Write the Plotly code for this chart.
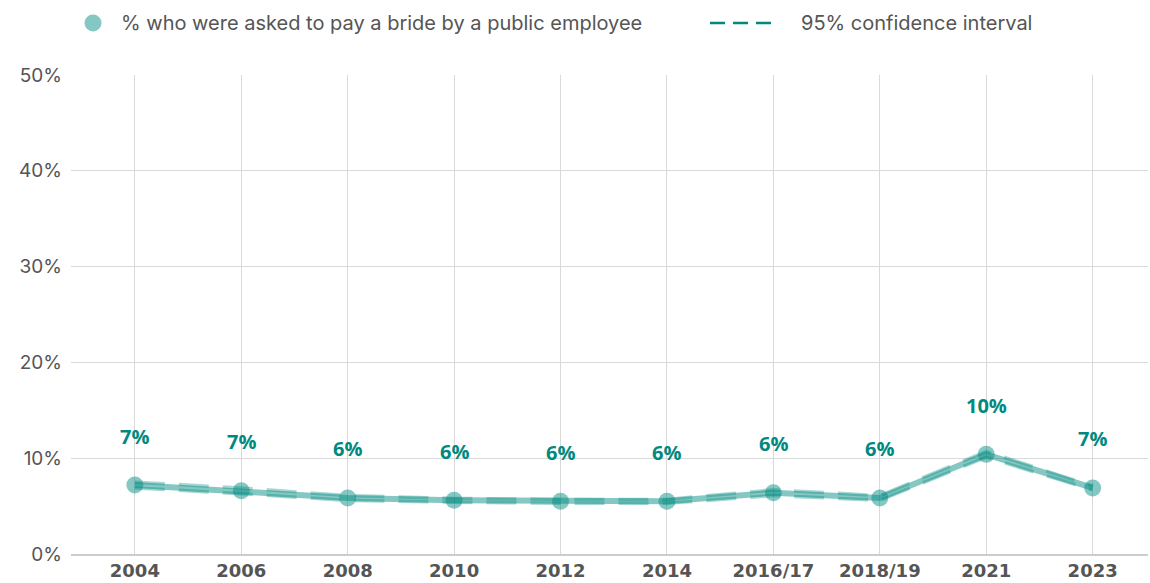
import plotly.graph_objects as go

# Survey years and share of respondents asked for a bribe (%)
years = ["2004", "2006", "2008", "2010", "2012", "2014", "2016/17", "2018/19", "2021", "2023"]
share = [7.2, 6.6, 5.85, 5.6, 5.5, 5.5, 6.4, 5.85, 10.4, 6.9]
ci_low = [6.9, 6.3, 5.6, 5.4, 5.3, 5.3, 6.1, 5.6, 10.1, 6.7]
ci_high = [7.5, 6.9, 6.1, 5.8, 5.7, 5.7, 6.7, 6.1, 10.7, 7.1]
labels = ["7%", "7%", "6%", "6%", "6%", "6%", "6%", "6%", "10%", "7%"]

y_ticks = [0, 10, 20, 30, 40, 50]
y_tick_text = ["0%", "10%", "20%", "30%", "40%", "50%"]

series_name = "% who were asked to pay a bride by a public employee"
ci_name = "95% confidence interval"

TEAL = "rgb(0,137,127)"
TEAL_SOFT = "rgba(0,137,127,0.48)"
TEAL_DASH = "rgba(0,137,127,0.34)"
GREY = "#555555"

# Plot area geometry in pixels
W, H = 1150, 583
M_L, M_R, M_T, M_B = 71, 2, 75, 29
PW, PH = W - M_L - M_R, H - M_T - M_B


def px_x(px):
    return (px - M_L) / PW


def px_y(py):
    return (H - M_B - py) / PH


idx = list(range(len(years)))

fig = go.Figure()

# Confidence interval bounds
for bound in (ci_low, ci_high):
    fig.add_trace(go.Scatter(
        x=idx, y=bound, mode="lines",
        line=dict(color=TEAL_DASH, width=3.5, dash="30px,14px"),
        showlegend=False, hoverinfo="skip",
    ))

# Main series
fig.add_trace(go.Scatter(
    x=idx, y=share, mode="lines+markers", name=series_name,
    line=dict(color=TEAL_SOFT, width=6),
    marker=dict(size=17, color=TEAL_SOFT, line=dict(width=0)),
    showlegend=False,
))

# Value labels above each point
for x, y, t in zip(idx, share, labels):
    fig.add_annotation(
        x=x, y=y, text=t, showarrow=False, yshift=49,
        font=dict(family="Open Sans", size=20, color=TEAL, weight="bold"),
    )

# Legend row drawn at the top of the figure
legend_y = px_y(23)
fig.add_shape(
    type="circle", xref="paper", yref="paper",
    x0=px_x(84.5), x1=px_x(101.5), y0=px_y(31.5), y1=px_y(14.5),
    fillcolor=TEAL_SOFT, line=dict(width=0),
)
fig.add_annotation(
    xref="paper", yref="paper", x=px_x(119), y=legend_y,
    xanchor="left", yanchor="middle", showarrow=False, text=series_name,
    font=dict(family="Inter", size=20, color=GREY),
)
fig.add_shape(
    type="line", xref="paper", yref="paper",
    x0=px_x(710), x1=px_x(772), y0=legend_y, y1=legend_y,
    line=dict(color=TEAL, width=2.5, dash="15px,8px"),
)
fig.add_annotation(
    xref="paper", yref="paper", x=px_x(799), y=legend_y,
    xanchor="left", yanchor="middle", showarrow=False, text=ci_name,
    font=dict(family="Inter", size=20, color=GREY),
)

fig.update_layout(
    width=W, height=H,
    margin=dict(l=M_L, r=M_R, t=M_T, b=M_B),
    plot_bgcolor="white", paper_bgcolor="white",
    font=dict(family="Roboto", color=GREY),
    showlegend=False,
)

fig.update_xaxes(
    range=[-0.6, 9.52], tickvals=idx, ticktext=years,
    showgrid=True, gridcolor="#d9d9d9", gridwidth=1,
    zeroline=False, showline=True, linecolor="#cccccc", linewidth=1.5,
    ticks="", tickfont=dict(family="DejaVu Sans", size=18, color=GREY, weight="bold"),
    ticklabelstandoff=0, automargin=False,
    fixedrange=True,
)
fig.update_yaxes(
    range=[0, 50], tickvals=y_ticks, ticktext=y_tick_text,
    showgrid=True, gridcolor="#d9d9d9", gridwidth=1,
    zeroline=False, showline=False, ticks="",
    tickfont=dict(family="Inter", size=19, color=GREY),
    ticklabelstandoff=8, automargin=False,
    fixedrange=True,
)

fig.write_html("out.html")
